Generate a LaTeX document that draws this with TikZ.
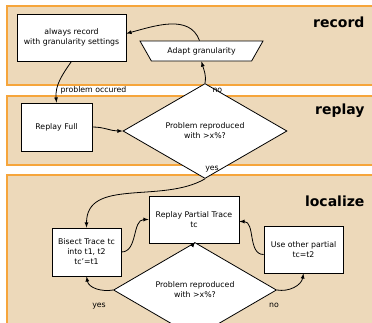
\documentclass[tikz,border=0pt]{standalone}
\usepackage{fontspec}
\setmainfont{DejaVu Sans}
\usetikzlibrary{shapes.geometric, arrows}

\definecolor{bandfill}{HTML}{EDD9BA}
\definecolor{bandline}{HTML}{F6A53B}

\begin{document}
\begin{tikzpicture}[x=1pt, y=-1pt,
	every node/.style={font=\fontsize{7.8}{10}\selectfont},
	band/.style={draw=bandline, fill=bandfill, line width=1.2pt},
	phase/.style={anchor=east, font=\bfseries\fontsize{14}{16}\selectfont},
	stepbox/.style={draw, fill=white, line width=0.8pt, align=center, inner sep=1pt},
	decision/.style={diamond, draw, fill=white, line width=0.8pt, align=center, inner sep=0pt},
	flow/.style={-latex, line width=0.8pt}]
	\clip (0,0) rectangle (372,322);
	% the three phases
	\draw[band] (7,6) rectangle (385,85);
	\draw[band] (7,96) rectangle (385,165);
	\draw[band] (7,175) rectangle (385,340);
	\node[phase] (lrecord) at (368,22) {record};
	\node[phase] (lreplay) at (368,111) {replay};
	\node[phase] (llocalize) at (368,201) {localize};
%record
	\node[stepbox, minimum width=109pt, minimum height=47pt] (rec) at (71.5,37.5) {always record\\with granularity settings};
	\node[trapezium, draw, fill=white, line width=0.8pt, shape border rotate=180,
		trapezium angle=40, trapezium stretches body, minimum width=123pt, minimum height=20pt,
		inner sep=1pt] (adapt) at (201.5,51) {Adapt granularity};
%replay
	\node[stepbox, minimum width=71pt, minimum height=48pt] (full) at (56.5,127) {Replay Full};
	\node[decision, minimum width=164pt, minimum height=64pt] (check) at (205,131) {Problem reproduced\\with >x\%?};
%localize
	\node[stepbox, minimum width=90pt, minimum height=47pt] (part) at (194,219.5) {Replay Partial Trace\\tc};
	\node[stepbox, minimum width=69pt, minimum height=48pt] (bisect) at (86.5,252) {Bisect Trace tc\\into t1, t2\\tc'=t1};
	\node[stepbox, minimum width=79pt, minimum height=47pt] (other) at (303.5,249.5) {Use other partial\\tc=t2};
	\node[decision, minimum width=163pt, minimum height=62pt] (recheck) at (195,290) {Problem reproduced\\with >x\%?};
	% connectors
	\draw[flow] (rec.south) to[out=-125, in=95] (full.north);
	\draw[flow] (full.east) to[out=0, in=180] (check.west);
	\draw[flow] (check.north) to[out=80, in=-75] (adapt.south);
	\draw[flow] ([xshift=-2pt]adapt.north) to[out=110, in=15] ([yshift=4pt]rec.east);
	\draw[flow] (check.south) to[out=-150, in=90] (bisect.north);
	\draw[flow] (bisect.east) to[out=0, in=180] (part.west);
	\draw[flow] (part.south) -- (recheck.north);
	\draw[flow] (recheck.west) to[out=190, in=-80] (bisect.south);
	\draw[flow] (recheck.east) to[out=-10, in=-100] (other.south);
	\draw[flow] ([yshift=-5pt]other.west) to[out=180, in=0] ([yshift=-2pt]part.east);
	% branch labels
	\node[anchor=west] (occured) at (57,90) {problem occured};
	\node[anchor=west] (nofull) at (209,90) {no};
	\node (yesfull) at (212,169) {yes};
	\node (yespart) at (99,306) {yes};
	\node (nopart) at (274,305) {no};
\end{tikzpicture}
\end{document}
